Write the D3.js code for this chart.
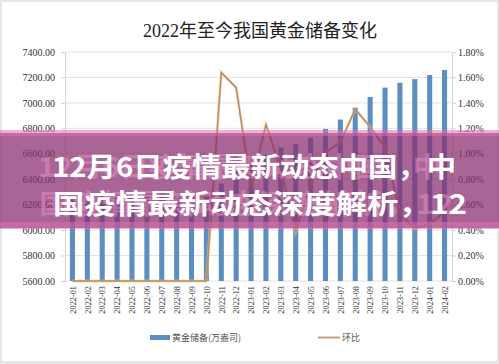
<!DOCTYPE html>
<html><head><meta charset="utf-8">
<script src="https://cdn.jsdelivr.net/npm/d3@7/dist/d3.min.js"></script>
<style>html,body{margin:0;padding:0;background:#e6e6e6;}svg{display:block;}</style>
</head><body>
<svg id="c" width="499" height="364"></svg>
<script>
const months = ["2022-01","2022-02","2022-03","2022-04","2022-05","2022-06","2022-07","2022-08","2022-09","2022-10","2022-11","2022-12","2023-01","2023-02","2023-03","2023-04","2023-05","2023-06","2023-07","2023-08","2023-09","2023-10","2023-11","2023-12","2024-01","2024-02"];
const reserves = [6264,6264,6264,6264,6264,6264,6264,6264,6264,6264,6367,6464,6512,6592,6650,6676,6727,6795,6869,6962,7046,7120,7158,7187,7219,7258];
const mom = [0,0,0,0,0,0,0,0,0,0,1.64,1.52,0.74,1.23,0.88,0.39,0.76,1.01,1.09,1.35,1.21,1.05,0.53,0.41,0.45,0.54];
const leftTicks = [5600,5800,6000,6200,6400,6600,6800,7000,7200,7400];
const rightTicks = [0,0.2,0.4,0.6,0.8,1.0,1.2,1.4,1.6,1.8];
const titleText = "2022年至今我国黄金储备变化";
const legendLabels = ["黄金储备(万盎司)","环比"];
const bannerLines = ["12月6日疫情最新动态中国，中","国疫情最新动态深度解析，12"];

const svg = d3.select("#c");
svg.append("rect").attr("x",2).attr("y",2).attr("width",495).attr("height",359).attr("fill","#fff");

const L=65, R=452, T=52, B=281;
const x = d3.scalePoint().domain(months).range([L,R]).padding(0.5);
const yL = d3.scaleLinear().domain([5600,7400]).range([B,T]);
const yR = d3.scaleLinear().domain([0,1.8]).range([B,T]);
const serif = "'Liberation Serif','DejaVu Serif',serif";

// title
svg.append("text").attr("x",260).attr("y",37).attr("text-anchor","middle")
  .attr("font-family","'Liberation Serif','Noto Sans CJK SC',serif").attr("font-size",18).attr("fill","#222").text(titleText);

// grid
svg.append("g").selectAll("line").data(leftTicks).join("line")
  .attr("x1",L).attr("x2",R).attr("y1",d=>yL(d)).attr("y2",d=>yL(d))
  .attr("stroke","#e2e2e2").attr("stroke-width",1);

// axes
const gl = svg.append("g").attr("transform",`translate(${L},0)`).call(d3.axisLeft(yL).tickValues(leftTicks).tickFormat(d3.format(".2f")).tickSize(4).tickPadding(6));
const gr = svg.append("g").attr("transform",`translate(${R},0)`).call(d3.axisRight(yR).tickValues(rightTicks).tickFormat(d=>d.toFixed(2)+"%").tickSize(4).tickPadding(2));
const gx = svg.append("g").attr("transform",`translate(0,${B})`).call(d3.axisBottom(x).tickSize(0).tickPadding(0));
[gl,gr,gx].forEach(g=>{
  g.selectAll(".domain").attr("stroke","#d4d4d4");
  g.selectAll(".tick line").attr("stroke","#d4d4d4");
  g.selectAll("text").attr("font-family",serif).attr("font-size",10).attr("fill","#333");
});
gx.selectAll(".domain").remove();
gx.selectAll("text").attr("font-size",8.3).attr("text-anchor","end")
  .attr("transform","rotate(-90)").attr("x",-5).attr("y",0).attr("dy","0.33em");

// bars
const bw = x.step()*0.34;
svg.append("g").selectAll("rect").data(months).join("rect")
  .attr("x",d=>x(d)-bw/2).attr("width",bw)
  .attr("y",(d,i)=>yL(reserves[i])).attr("height",(d,i)=>B-yL(reserves[i]))
  .attr("fill","#5b8ec1");

// line
const line = d3.line().x((d,i)=>x(months[i])).y(d=>yR(d));
svg.append("path").datum(mom).attr("d",line).attr("fill","none")
  .attr("stroke","#f0c9a0").attr("stroke-width",3).attr("stroke-opacity",0.6);
svg.append("path").datum(mom).attr("d",line).attr("fill","none")
  .attr("stroke","#b98a5c").attr("stroke-width",1.5);

// legend
const lg = svg.append("g");
lg.append("rect").attr("x",150).attr("y",335).attr("width",20).attr("height",5).attr("fill","#5b8ec1");
lg.append("text").attr("x",172).attr("y",341).attr("font-family","'Noto Sans CJK SC',sans-serif").attr("font-size",9).attr("fill","#555").text(legendLabels[0]);
lg.append("line").attr("x1",318).attr("x2",340).attr("y1",337.5).attr("y2",337.5).attr("stroke","#c8a07a").attr("stroke-width",2);
lg.append("text").attr("x",342).attr("y",341).attr("font-family","'Noto Sans CJK SC',sans-serif").attr("font-size",9).attr("fill","#555").text(legendLabels[1]);

// banner overlay
const bn = svg.append("g");
bn.append("rect").attr("x",0).attr("y",133).attr("width",499).attr("height",95).attr("fill","#8a2f72").attr("fill-opacity",0.74);
bn.append("rect").attr("x",0).attr("y",130).attr("width",499).attr("height",6).attr("fill","#e070b0").attr("fill-opacity",0.55);
bn.append("rect").attr("x",0).attr("y",222).attr("width",499).attr("height",7).attr("fill","#e070b0").attr("fill-opacity",0.55);
const bfont = "'Noto Sans CJK SC','Noto Sans CJK JP',sans-serif";
const lx = [[52,404],[53,414]], ly = [177,214];
bannerLines.forEach((t,i)=>{
  bn.append("text").attr("x",lx[i][0]-14).attr("y",ly[i]).attr("textLength",lx[i][1]).attr("lengthAdjust","spacingAndGlyphs")
    .attr("font-family",bfont).attr("font-weight",700).attr("font-size",27).attr("fill","#e58fc0").attr("fill-opacity",0.55).text(t);
});
bannerLines.forEach((t,i)=>{
  bn.append("text").attr("x",lx[i][0]).attr("y",ly[i]).attr("textLength",lx[i][1]).attr("lengthAdjust","spacingAndGlyphs")
    .attr("font-family",bfont).attr("font-weight",700).attr("font-size",27).attr("fill","#fff").text(t);
});
</script>
</body></html>
